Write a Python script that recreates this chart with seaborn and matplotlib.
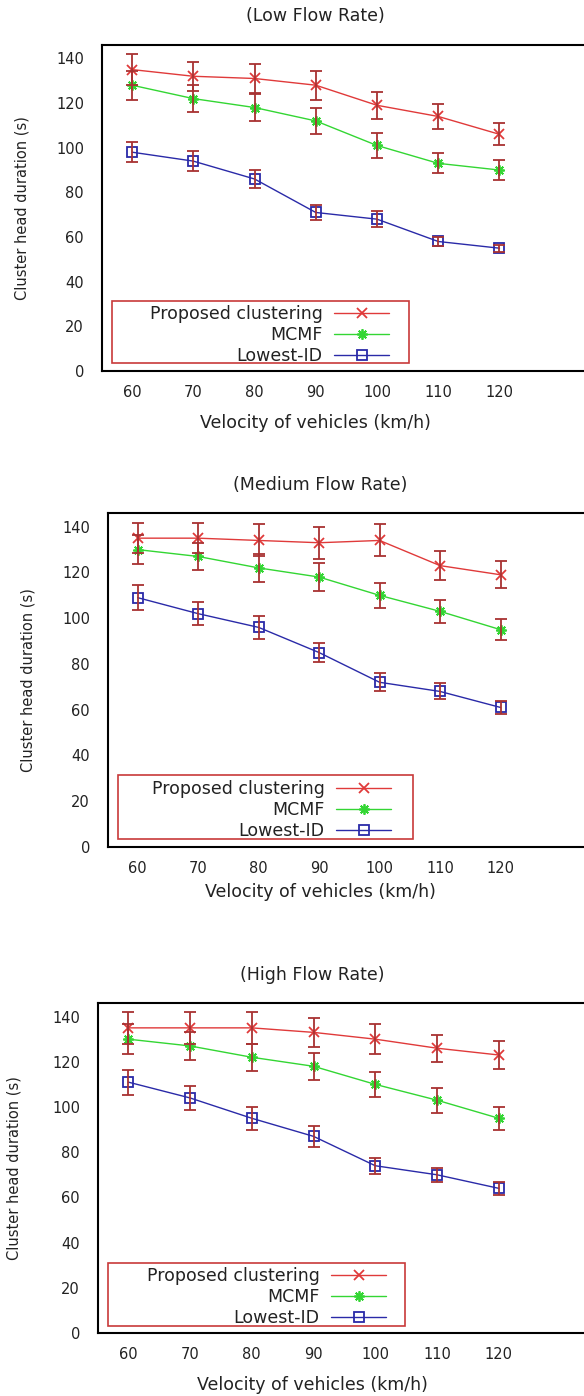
import matplotlib
matplotlib.use("Agg")
import matplotlib.pyplot as plt
from matplotlib.patches import Rectangle
import seaborn as sns
import numpy as np

# ---------------- data ----------------
velocity = [60, 70, 80, 90, 100, 110, 120]
series_names = ["Proposed clustering", "MCMF", "Lowest-ID"]
panel_titles = ["(Low Flow Rate)", "(Medium Flow Rate)", "(High Flow Rate)"]

low_proposed = [135, 132, 131, 128, 119, 114, 106]
low_proposed_err = [7, 6.5, 6.5, 6.5, 6, 5.5, 5]
low_mcmf = [128, 122, 118, 112, 101, 93, 90]
low_mcmf_err = [6.5, 6, 6, 6, 5.5, 4.5, 4.5]
low_lowest = [98, 94, 86, 71, 68, 58, 55]
low_lowest_err = [4.5, 4.5, 4, 3.5, 3.5, 2, 1.5]

med_proposed = [135, 135, 134, 133, 134, 123, 119]
med_proposed_err = [6.5, 6.5, 7, 7, 7, 6.5, 6]
med_mcmf = [130, 127, 122, 118, 110, 103, 95]
med_mcmf_err = [6.5, 6, 6, 6, 5.5, 5, 4.5]
med_lowest = [109, 102, 96, 85, 72, 68, 61]
med_lowest_err = [5.5, 5, 5, 4, 4, 3.5, 3]

high_proposed = [135, 135, 135, 133, 130, 126, 123]
high_proposed_err = [7, 7, 7, 6.5, 6.5, 6, 6]
high_mcmf = [130, 127, 122, 118, 110, 103, 95]
high_mcmf_err = [6.5, 6, 6, 6, 5.5, 5.5, 5]
high_lowest = [111, 104, 95, 87, 74, 70, 64]
high_lowest_err = [5.5, 5.5, 5, 4.5, 3.5, 3, 3]

yticks = [0, 20, 40, 60, 80, 100, 120, 140]
xticks = [60, 70, 80, 90, 100, 110, 120]

panels_data = [
    [(low_proposed, low_proposed_err), (low_mcmf, low_mcmf_err), (low_lowest, low_lowest_err)],
    [(med_proposed, med_proposed_err), (med_mcmf, med_mcmf_err), (med_lowest, med_lowest_err)],
    [(high_proposed, high_proposed_err), (high_mcmf, high_mcmf_err), (high_lowest, high_lowest_err)],
]

# ---------------- styling ----------------
sns.set_theme(style="white")
plt.rcParams["font.family"] = ["DejaVu Sans"]
plt.rcParams["axes.edgecolor"] = "black"

colors = ["#e03a3a", "#33d633", "#2a2aa8"]
markers = ["x", (8, 2, 0), "s"]
mfcs = ["none", "none", "none"]
msizes = [7, 7.5, 6.5]
err_color = "#a83232"

W, H = 584, 1396
fig = plt.figure(figsize=(W / 100, H / 100), dpi=100)
fig.patch.set_facecolor("white")

# layout in pixels
layout = [
    dict(left=102, top=45, bottom=371, tx=315, ty=16, lx=315, ly=423, yx=22,
         box=(112, 301, 409, 363), leg=(398, 296)),
    dict(left=108, top=513, bottom=847, tx=320, ty=485, lx=320, ly=892, yx=28,
         box=(118, 775, 413, 839), leg=(400, 771)),
    dict(left=98, top=1003, bottom=1333, tx=312, ty=975, lx=312, ly=1385, yx=14,
         box=(108, 1263, 405, 1326), leg=(395, 1258)),
]

fs_tick = 10.5
fs_text = 12.5
for p, (L, data) in enumerate(zip(layout, panels_data)):
    ax = fig.add_axes([L["left"] / W, 1 - L["bottom"] / H,
                       (W - L["left"]) / W, (L["bottom"] - L["top"]) / H])
    ax.set_facecolor("white")
    for i, (vals, err) in enumerate(data):
        sns.lineplot(x=velocity, y=vals, ax=ax, color=colors[i], marker=markers[i],
                     markersize=msizes[i], markeredgecolor=colors[i],
                     markerfacecolor=mfcs[i], markeredgewidth=1.3, linewidth=1.0,
                     label=series_names[i], zorder=2)
        ax.errorbar(velocity, vals, yerr=err, fmt="none", ecolor=err_color,
                    elinewidth=1.3, capsize=4.5, capthick=1.3, zorder=3)
    h, l = ax.get_legend_handles_labels()
    ax.set_xlim(55.1, 133.8)
    ax.set_ylim(0, 146)
    ax.set_xticks(xticks)
    ax.set_yticks(yticks)
    ax.tick_params(axis="both", direction="in", length=6, width=1.2, colors="black",
                   labelsize=fs_tick, labelcolor="#222222")
    ax.tick_params(axis="y", pad=13)
    ax.tick_params(axis="x", pad=10)
    ax.set_xlabel("")
    ax.set_ylabel("")
    for s in ["left", "bottom", "top"]:
        ax.spines[s].set_linewidth(1.5)
        ax.spines[s].set_color("black")
    ax.spines["right"].set_visible(False)

    leg = ax.legend(h, l, loc="upper right", markerfirst=False, frameon=False,
                    borderpad=0, handlelength=3.2, handletextpad=0.65,
                    labelspacing=0.17, fontsize=fs_text, numpoints=1,
                    bbox_to_anchor=(L["leg"][0] / W, 1 - L["leg"][1] / H),
                    bbox_transform=fig.transFigure)
    for t in leg.get_texts():
        t.set_color("#222222")
    x0, y0, x1, y1 = L["box"]
    fig.patches.append(Rectangle((x0 / W, 1 - y1 / H), (x1 - x0) / W, (y1 - y0) / H,
                                 transform=fig.transFigure, facecolor="none",
                                 edgecolor="#c83a3a", linewidth=1.2, zorder=5))

    fig.text(L["tx"] / W, 1 - L["ty"] / H, panel_titles[p], ha="center", va="center",
             fontsize=fs_text, color="#222222")
    fig.text(L["lx"] / W, 1 - L["ly"] / H, "Velocity of vehicles (km/h)", ha="center",
             va="center", fontsize=fs_text, color="#222222")
    fig.text(L["yx"] / W, 1 - (L["top"] + L["bottom"]) / 2 / H, "Cluster head duration (s)",
             ha="center", va="center", rotation=90, fontsize=10.5, color="#222222")

fig.savefig("out.png", dpi=100, facecolor="white")
